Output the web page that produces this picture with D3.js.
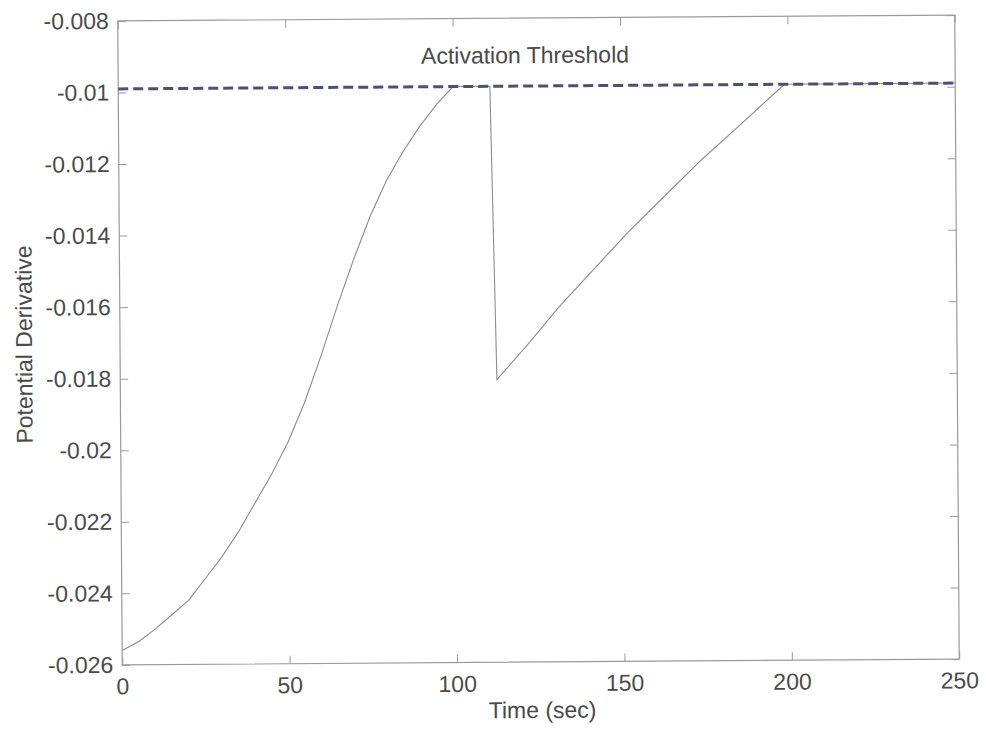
<!DOCTYPE html>
<html>
<head>
<meta charset="utf-8">
<script src="https://cdn.jsdelivr.net/npm/d3@7"></script>
<style>
  body { margin: 0; background: #fff; }
  svg text { font-family: "Liberation Sans", Arial, sans-serif; fill: #4a4a4a; }
</style>
</head>
<body>
<div id="chart"></div>
<script>
// data
const timeSec = [0, 5, 10, 15, 20, 25, 30, 35, 40, 45, 50, 55, 60, 65, 70, 75, 80, 85, 90, 95, 100,
                 111, 112.5, 122, 131, 141, 152, 163, 174, 186, 199, 250];
const potDeriv = [-0.0256, -0.02535, -0.0250, -0.0246, -0.0242, -0.0236, -0.0230, -0.0223, -0.0215, -0.0207,
                  -0.0198, -0.0187, -0.0174, -0.0160, -0.0147, -0.0135, -0.0125, -0.0117, -0.0110, -0.0104,
                  -0.0099, -0.0099, -0.0181, -0.0171, -0.0161, -0.0151, -0.0140, -0.0130, -0.0120, -0.0110,
                  -0.0099, -0.0099];
const threshold = -0.0099;
const thresholdLabel = "Activation Threshold";
const xTicks = [0, 50, 100, 150, 200, 250];
const yTicks = [-0.026, -0.024, -0.022, -0.02, -0.018, -0.016, -0.014, -0.012, -0.01, -0.008];

const W = 986, H = 732;
const plotL = 120, plotR = 957, plotT = 18, plotB = 662;

const svg = d3.select("#chart").append("svg")
  .attr("width", W)
  .attr("height", H);

// the scan is slightly tilted
const g = svg.append("g")
  .attr("transform", "rotate(-0.4, 539, 340)");

const x = d3.scaleLinear().domain([0, 250]).range([plotL, plotR]);
const y = d3.scaleLinear().domain([-0.026, -0.008]).range([plotB, plotT]);

const fmt = d => String(+d.toFixed(3));

// box
g.append("rect")
  .attr("x", plotL).attr("y", plotT)
  .attr("width", plotR - plotL).attr("height", plotB - plotT)
  .attr("fill", "none").attr("stroke", "#9a9a9a").attr("stroke-width", 1.2);

function styleAxis(sel) {
  sel.select(".domain").remove();
  sel.selectAll(".tick line").attr("stroke", "#9a9a9a").attr("stroke-width", 1);
  sel.selectAll(".tick text").attr("font-size", 23).attr("fill", "#4a4a4a");
}

g.append("g")
  .attr("transform", `translate(0,${plotB})`)
  .call(d3.axisBottom(x).tickValues(xTicks).tickSize(-8).tickSizeOuter(0).tickPadding(13).tickFormat(fmt))
  .call(styleAxis);

g.append("g")
  .attr("transform", `translate(0,${plotT})`)
  .call(d3.axisTop(x).tickValues(xTicks).tickSize(-8).tickSizeOuter(0).tickFormat(""))
  .call(styleAxis);

g.append("g")
  .attr("transform", `translate(${plotL},0)`)
  .call(d3.axisLeft(y).tickValues(yTicks).tickSize(-8).tickSizeOuter(0).tickPadding(9).tickFormat(fmt))
  .call(styleAxis);

g.append("g")
  .attr("transform", `translate(${plotR},0)`)
  .call(d3.axisRight(y).tickValues(yTicks).tickSize(-8).tickSizeOuter(0).tickFormat(""))
  .call(styleAxis);

// response curve
const line = d3.line()
  .x((d, i) => x(timeSec[i]))
  .y(d => y(d));

g.append("path")
  .datum(potDeriv)
  .attr("d", line)
  .attr("fill", "none")
  .attr("stroke", "#8c8c8c")
  .attr("stroke-width", 1.1);

// threshold
g.append("line")
  .attr("x1", x(0)).attr("x2", x(250))
  .attr("y1", y(threshold)).attr("y2", y(threshold))
  .attr("stroke", "#4e4e7a")
  .attr("stroke-width", 3)
  .attr("stroke-dasharray", "10,5");

g.append("text")
  .attr("x", 527).attr("y", 63)
  .attr("text-anchor", "middle")
  .attr("font-size", 23)
  .text(thresholdLabel);

// axis titles
g.append("text")
  .attr("x", 540).attr("y", 718)
  .attr("text-anchor", "middle")
  .attr("font-size", 23)
  .text("Time (sec)");

g.append("text")
  .attr("transform", "translate(32,341) rotate(-90)")
  .attr("text-anchor", "middle")
  .attr("font-size", 23)
  .text("Potential Derivative");
</script>
</body>
</html>
